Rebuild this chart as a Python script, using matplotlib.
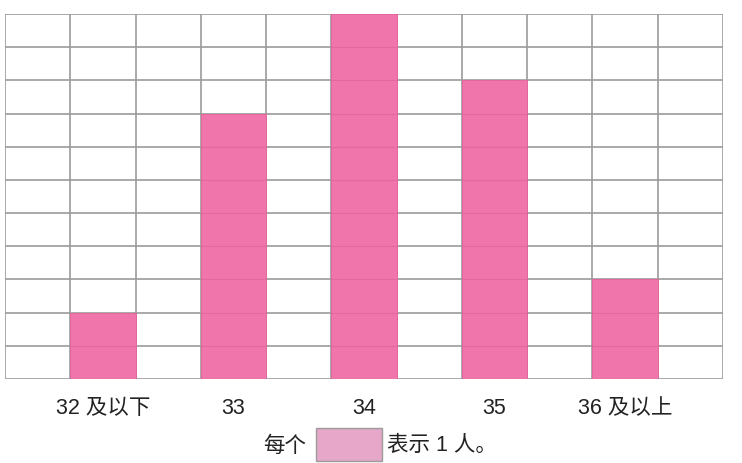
import matplotlib
matplotlib.use('Agg')
import matplotlib.pyplot as plt
from matplotlib.patches import Rectangle

plt.rcParams['font.family'] = ['Liberation Sans', 'Noto Sans CJK SC']

# data
categories = ['32 及以下', '33', '34', '35', '36 及以上']
counts = [2, 8, 11, 9, 3]
positions = [1, 3, 5, 7, 9]   # column index of each bar in the grid
n_cols = 11
n_rows = 11

bar_color = '#F075AB'
grid_color = '#9B9B9B'
text_color = '#222222'

fig = plt.figure(figsize=(7.42, 4.64), dpi=100)
ax = fig.add_axes([5 / 742, 84 / 464, 718 / 742, 365 / 464])

ax.bar([p + 0.5 for p in positions], counts, width=1.0, color=bar_color,
       edgecolor='#E5609A', linewidth=0.6, zorder=2)

# grid
for i in range(n_cols + 1):
    ax.axvline(i, color=grid_color, lw=1.2, zorder=1)
for j in range(n_rows + 1):
    ax.axhline(j, color=grid_color, lw=1.2, zorder=1)
# grid faintly visible through the bars
for p, c in zip(positions, counts):
    ax.hlines(range(1, c), p, p + 1, color='#C8508A', lw=0.8, alpha=0.35, zorder=3)

ax.set_xlim(0, n_cols)
ax.set_ylim(0, n_rows)
ax.set_xticks([p + 0.5 for p in positions])
ax.set_xticklabels(categories, fontsize=15.5, color=text_color)
ax.tick_params(axis='x', length=0, pad=13)
ax.set_yticks([])
for s in ax.spines.values():
    s.set_visible(False)

# legend: 每个 [box] 表示1人。
fig.text(263 / 742, 1 - 446 / 464, '每个', fontsize=15.5, color=text_color,
         ha='left', va='center')
fig.patches.append(Rectangle((316 / 742, 1 - 462 / 464), 66 / 742, 33 / 464,
                             transform=fig.transFigure, facecolor='#E6A7C9',
                             edgecolor='#9B9B9B', lw=1.0))
fig.text(387 / 742, 1 - 446 / 464, '表示 1 人。', fontsize=15.5, color=text_color,
         ha='left', va='center')

fig.savefig('out.png', dpi=100)
